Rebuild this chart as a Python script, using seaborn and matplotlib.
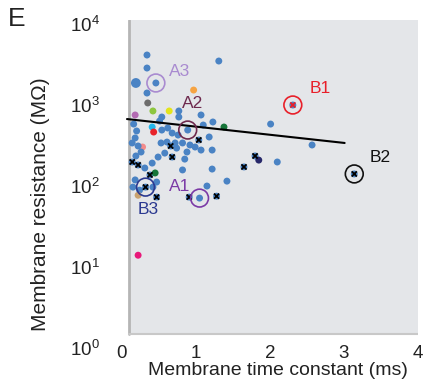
import numpy as np
import pandas as pd
import matplotlib
matplotlib.use('Agg')
import matplotlib.pyplot as plt
from matplotlib.patches import Rectangle
import seaborn as sns

# data: membrane time constant (ms) / membrane resistance (MOhm)
tau_ms = [0.34, 0.34, 0.19, 0.46, 0.34, 1.31, 0.97, 0.35, 0.42, 0.64,
          0.18, 0.77, 0.54, 0.51, 0.77, 1.07, 1.23, 1.38, 2.01, 2.31,
          2.57, 0.41, 0.43, 0.28, 0.89, 1.10,
          0.16, 0.20, 0.18, 0.14, 0.22, 0.26, 0.19,
          0.54, 0.62, 0.68, 0.76, 0.53, 0.61, 0.72, 0.74, 0.58, 0.49, 0.41,
          0.82, 0.92, 0.99, 1.07, 0.88, 1.18, 1.22, 0.85, 0.82,
          0.66, 0.68, 1.04,
          0.14, 0.22, 0.31, 0.38, 0.45, 0.18, 0.15, 0.24, 0.32, 0.22, 0.42,
          0.47, 0.47, 1.22, 1.15, 0.91, 1.05, 1.28, 1.42, 1.80, 1.85, 1.65,
          2.10, 3.14, 0.22]
rm_mohm = [4140, 2860, 1870, 1870, 1406, 3490, 1530, 1060, 844, 844,
           753, 844, 711, 634, 711, 753, 617, 535, 582, 1000,
           321, 535, 464, 303, 491, 566,
           582, 478, 392, 340, 312, 263, 235,
           491, 520, 451, 426, 340, 349, 340, 294, 255, 228, 192,
           340, 321, 303, 278, 263, 403, 278, 215, 158,
           312, 228, 370,
           198, 182, 167, 137, 145, 119, 97, 89, 97, 77, 97,
           73, 112, 162, 100, 73, 71, 75, 115, 235, 209, 172,
           198, 141, 14]
cell_type = (['blue'] * 6 + ['orange', 'gray', 'yellowgreen', 'yellow', 'mauve']
             + ['blue'] * 6 + ['darkgreen', 'blue', 'blue', 'blue', 'cyan', 'red', 'salmon']
             + ['blue'] * 32
             + ['blue'] * 4 + ['darkgreen'] + ['blue'] * 4 + ['tan']
             + ['blue'] * 10 + ['navy'] + ['blue'] * 3 + ['magenta'])
marked = ([False] * 19 + [True] + [False] * 33 + [True] * 3
          + [True, True, False, True, False, False, False, False, True, False, False,
             True, False, False, False, True, False, True, False, True, False, True,
             False, True, False])

# highlighted cells
hl_name = ['A1', 'A2', 'A3', 'B1', 'B2', 'B3']
hl_tau = [1.05, 0.89, 0.46, 2.31, 3.14, 0.32]
hl_rm = [71, 491, 1870, 1000, 141, 97]
hl_color = ['#7b3aa6', '#6e2a4e', '#a98bd0', '#e8202a', '#111111', '#2b3990']
hl_label_tau = [0.78, 0.96, 0.78, 2.68, 3.49, 0.35]
hl_label_rm = [100, 1030, 2555, 1620, 222, 51]

# fitted line (end points)
fit_tau = [0.07, 3.01]
fit_rm = [671, 340]

palette = {'blue': '#4a83c4', 'orange': '#f6a443', 'gray': '#6d6d6d',
           'yellowgreen': '#8dc63f', 'yellow': '#e3e41c', 'mauve': '#b36bb3',
           'darkgreen': '#17763a', 'cyan': '#22b5ea', 'red': '#e8232a',
           'salmon': '#f28b8b', 'tan': '#c9a26f', 'navy': '#27286a',
           'magenta': '#e8197a'}

df = pd.DataFrame({'tau': tau_ms, 'rm': rm_mohm, 'type': cell_type, 'marked': marked})
df['size'] = 25
df.loc[(df['tau'] == 0.19) & (df['rm'] == 1870), 'size'] = 50

sns.set_theme(style='white')
plt.rcParams['font.family'] = ['Liberation Sans', 'DejaVu Sans']
plt.rcParams['mathtext.fontset'] = 'custom'
plt.rcParams['mathtext.rm'] = 'Liberation Sans'

fig = plt.figure(figsize=(4.23, 3.92), dpi=100)
ax = fig.add_axes([0.288, 0.112, 0.700, 0.837])
ax.set_yscale('log')
ax.set_xlim(0, 4)
ax.set_ylim(1, 1.12e4)

# gray panel
ax.add_patch(Rectangle((0.1, 1.5), 3.9, 1.12e4 - 1.5, facecolor='#e4e6e9',
                       edgecolor='none', zorder=0))
ax.plot([0.1, 0.1], [1.5, 1.12e4], color='#b5b5b5', lw=2, zorder=1)
ax.plot([0.1, 4.0], [1.5, 1.5], color='#c8c8c8', lw=1.5, zorder=1)

sns.scatterplot(data=df, x='tau', y='rm', hue='type', palette=palette, size='size',
                sizes=(25, 50), linewidth=0, legend=False, ax=ax, zorder=3)

mk = df[df['marked']]
xm_colors = ['#e8202a' if (t == 2.31) else 'black' for t in mk['tau']]
ax.scatter(mk['tau'], mk['rm'], marker='x', s=14, c=xm_colors, linewidths=1.3, zorder=4)

ax.plot(fit_tau, fit_rm, color='black', lw=1.5, zorder=5)

for n, t, r, c, lt, lr in zip(hl_name, hl_tau, hl_rm, hl_color, hl_label_tau, hl_label_rm):
    ax.scatter([t], [r], s=165, facecolors='none', edgecolors=c, linewidths=1.2, zorder=6)
    ax.text(lt, lr, n, color=c, fontsize=12.5, ha='center', va='center', zorder=7)

ax.set_xticks([0, 1, 2, 3, 4])
ax.set_yticks([1, 10, 100, 1000, 10000])
ax.minorticks_off()
ax.tick_params(axis='both', length=0, labelsize=13.5, colors='#222222')
ax.tick_params(axis='x', pad=-2)
ax.tick_params(axis='y', pad=16)
for s in ax.spines.values():
    s.set_visible(False)
ax.set_facecolor('white')

ax.set_xlabel('Membrane time constant (ms)', fontsize=14, labelpad=0, color='#222222')
ax.set_ylabel('Membrane resistance (MΩ)', fontsize=15, labelpad=14, color='#222222')
ax.xaxis.label.set_x(0.527)
ax.yaxis.label.set_y(0.44)
fig.text(0.018, 0.952, 'E', fontsize=19, va='center', color='#222222')

fig.savefig('out.png', dpi=100)
